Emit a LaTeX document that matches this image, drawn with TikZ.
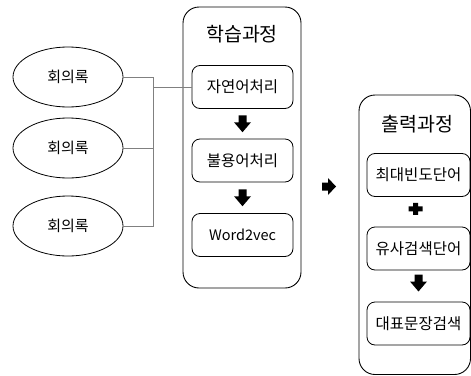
\documentclass[tikz,border=0pt]{standalone}
\usepackage{fontspec}
\setmainfont{Noto Sans CJK KR}
\usetikzlibrary{shapes.geometric,calc}
\begin{document}
\begin{tikzpicture}[x=1pt,y=-1pt,line width=0.8pt,
    doc/.style={draw, ellipse, minimum width=110, minimum height=60, inner sep=0pt, font=\fontsize{15}{17}\selectfont},
    stage/.style={draw, rounded corners=16, line width=0.9pt},
    stepbox/.style={draw, rounded corners=8, minimum height=43, inner sep=0pt, font=\fontsize{15.5}{18}\selectfont},
    title/.style={font=\fontsize{19.5}{22}\selectfont},
    wire/.style={draw=gray, line width=0.9pt}]

    % Frame of the picture
    \useasboundingbox (0,0) rectangle (471,375);

    % Input documents
    \node[doc] (doc1) at (68,77) {회의록};
    \node[doc] (doc2) at (68,148) {회의록};
    \node[doc] (doc3) at (68,226) {회의록};

    % Learning stage
    \draw[stage] (183,7) rectangle (301,288);
    \node[title] (learn) at (242,34) {학습과정};
    \node[stepbox, minimum width=101] (nlp) at (242.5,87) {자연어처리};
    \node[stepbox, minimum width=101] (stop) at (242.5,160.5) {불용어처리};
    \node[stepbox, minimum width=101] (w2v) at (242.5,235) {\fontsize{14.5}{16}\selectfont Word2vec};

    % Output stage
    \draw[stage] (359,95) rectangle (470.5,374.5);
    \node[title] (output) at (417.5,124) {출력과정};
    \node[stepbox, minimum width=103] (freq) at (418.5,175) {최대빈도단어};
    \node[stepbox, minimum width=103] (simw) at (418.5,248.5) {유사검색단어};
    \node[stepbox, minimum width=103] (rep) at (418.5,323.5) {대표문장검색};

    % Wires from the documents
    \coordinate (bus) at (153,0);
    \draw[wire] (doc1.east) -| (bus |- doc3.east) -- (doc3.east);
    \draw[wire] (doc2.east) -- (doc2.east -| bus);
    \draw[wire] (bus |- nlp.west) -- (nlp.west);

    % Block arrows
    \fill[shift={($(nlp.south)!0.5!(stop.north)$)}] (-4,-8.5) -- (4,-8.5) -- (4,-1.5) -- (8.5,-1.5) -- (0,8.5) -- (-8.5,-1.5) -- (-4,-1.5) -- cycle;
    \fill[shift={($(stop.south)!0.5!(w2v.north)$)}] (-4,-8.5) -- (4,-8.5) -- (4,-1.5) -- (8.5,-1.5) -- (0,8.5) -- (-8.5,-1.5) -- (-4,-1.5) -- cycle;
    \fill[shift={(329,186.5)}] (-7,-4) -- (-1,-4) -- (-1,-8.5) -- (7,0) -- (-1,8.5) -- (-1,4) -- (-7,4) -- cycle;
    \fill[shift={($(freq.south)!0.5!(simw.north)+(-3,-3)$)}] (-2.5,-6) -- (2.5,-6) -- (2.5,-2.5) -- (7,-2.5) -- (7,2.5) -- (2.5,2.5) -- (2.5,6) -- (-2.5,6) -- (-2.5,2.5) -- (-7,2.5) -- (-7,-2.5) -- (-2.5,-2.5) -- cycle;
    \fill[shift={($(simw.south)!0.5!(rep.north)+(0,-3)$)}] (-4,-8.5) -- (4,-8.5) -- (4,-1.5) -- (8.5,-1.5) -- (0,8.5) -- (-8.5,-1.5) -- (-4,-1.5) -- cycle;

\end{tikzpicture}
\end{document}
